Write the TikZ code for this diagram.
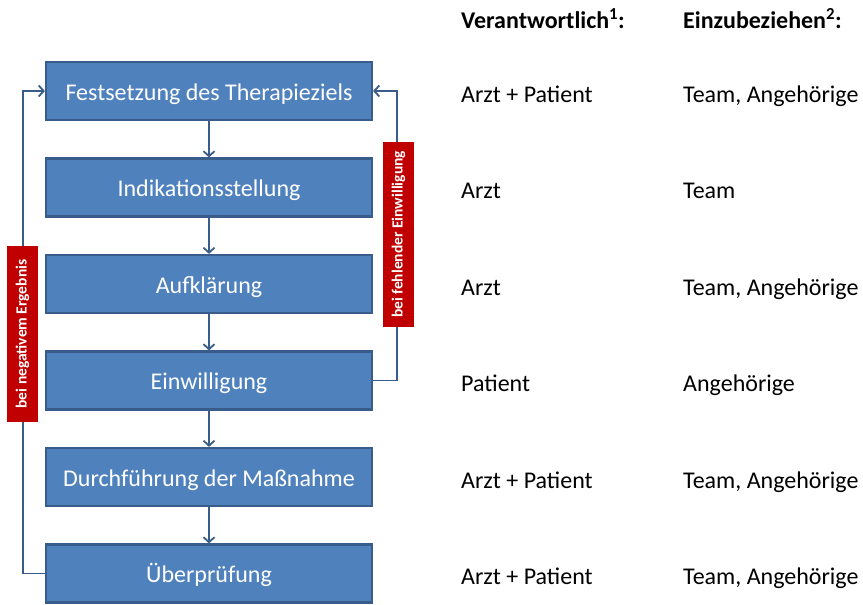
\documentclass[tikz,border=0pt]{standalone}
\usepackage{fontspec}
\setmainfont{Carlito}
\usetikzlibrary{calc, arrows.meta, positioning}
\definecolor{boxBlue}{HTML}{4F81BD}
\definecolor{boxLine}{HTML}{385D8A}
\definecolor{tagRed}{HTML}{C00000}
\tikzset{
    stepbox/.style={draw=boxLine, line width=2.2pt, fill=boxBlue, text=white,
        minimum width=326pt, minimum height=58pt, inner sep=0pt,
        text height=18pt, text depth=0pt,
        font=\fontsize{24}{28}\selectfont},
    flow/.style={draw=boxLine, line width=1.8pt,
        -{Straight Barb[length=5pt, width=11pt]}},
    tagbox/.style={fill=tagRed, text=white, rotate=90, inner sep=0pt,
        minimum height=31pt, font=\bfseries\fontsize{15.5}{18}\selectfont},
    coltext/.style={anchor=base west, inner sep=0pt, font=\fontsize{24}{28}\selectfont}
}
\begin{document}
\begin{tikzpicture}[x=1pt, y=-1pt]
    \useasboundingbox (0,0) rectangle (863,605);
    \newcommand{\MidX}{209};
    \newcommand{\ColA}{461};
    \newcommand{\ColB}{683};
    % Kopfzeile
    \node[coltext, font=\bfseries\fontsize{24}{28}\selectfont] (hVer) at (\ColA, 28.5) {Verantwortlich\textsuperscript{1}:};
    \node[coltext, font=\bfseries\fontsize{24}{28}\selectfont] (hEin) at (\ColB, 28.5) {Einzubeziehen\textsuperscript{2}:};
    % Schritte mit Zuständigkeiten
    \foreach \v/\u/\t/\a/\b in
    {nSetz/91/Festsetzung des Therapieziels/Arzt + Patient/{Team, Angehörige},
        nInd/187.5/Indikationsstellung/Arzt/Team,
        nAuf/284/Aufklärung/Arzt/{Team, Angehörige},
        nEin/380.5/Einwilligung/Patient/Angehörige,
        nDurch/477/Durchführung der Maßnahme/Arzt + Patient/{Team, Angehörige},
        nCheck/573.5/Überprüfung/Arzt + Patient/{Team, Angehörige}
    }
    {
        \node[stepbox] (\v) at (\MidX, \u) {\t};
        \node[coltext] (\v A) at (\ColA, \u+11) {\a};
        \node[coltext] (\v B) at (\ColB, \u+11) {\b};
    };
    \foreach \p/\q in {nSetz/nInd, nInd/nAuf, nAuf/nEin, nEin/nDurch, nDurch/nCheck}
    {
        \draw[flow] (\p.south) -- (\q.north);
    };
    % Rückführungen
    \coordinate (cLeft) at (23, 0);
    \coordinate (cRight) at (397, 0);
    \draw[flow] (nCheck.west) -- (nCheck.west -| cLeft) -- (nSetz.west -| cLeft) -- (nSetz.west);
    \draw[flow] (nEin.east) -- (nEin.east -| cRight) -- (nSetz.east -| cRight) -- (nSetz.east);
    \node[tagbox, minimum width=176pt] (tNeg) at (22.5, 334) {bei negativem Ergebnis};
    \node[tagbox, minimum width=185pt] (tFehl) at (398.5, 234.5) {bei fehlender Einwilligung};
\end{tikzpicture}
\end{document}
